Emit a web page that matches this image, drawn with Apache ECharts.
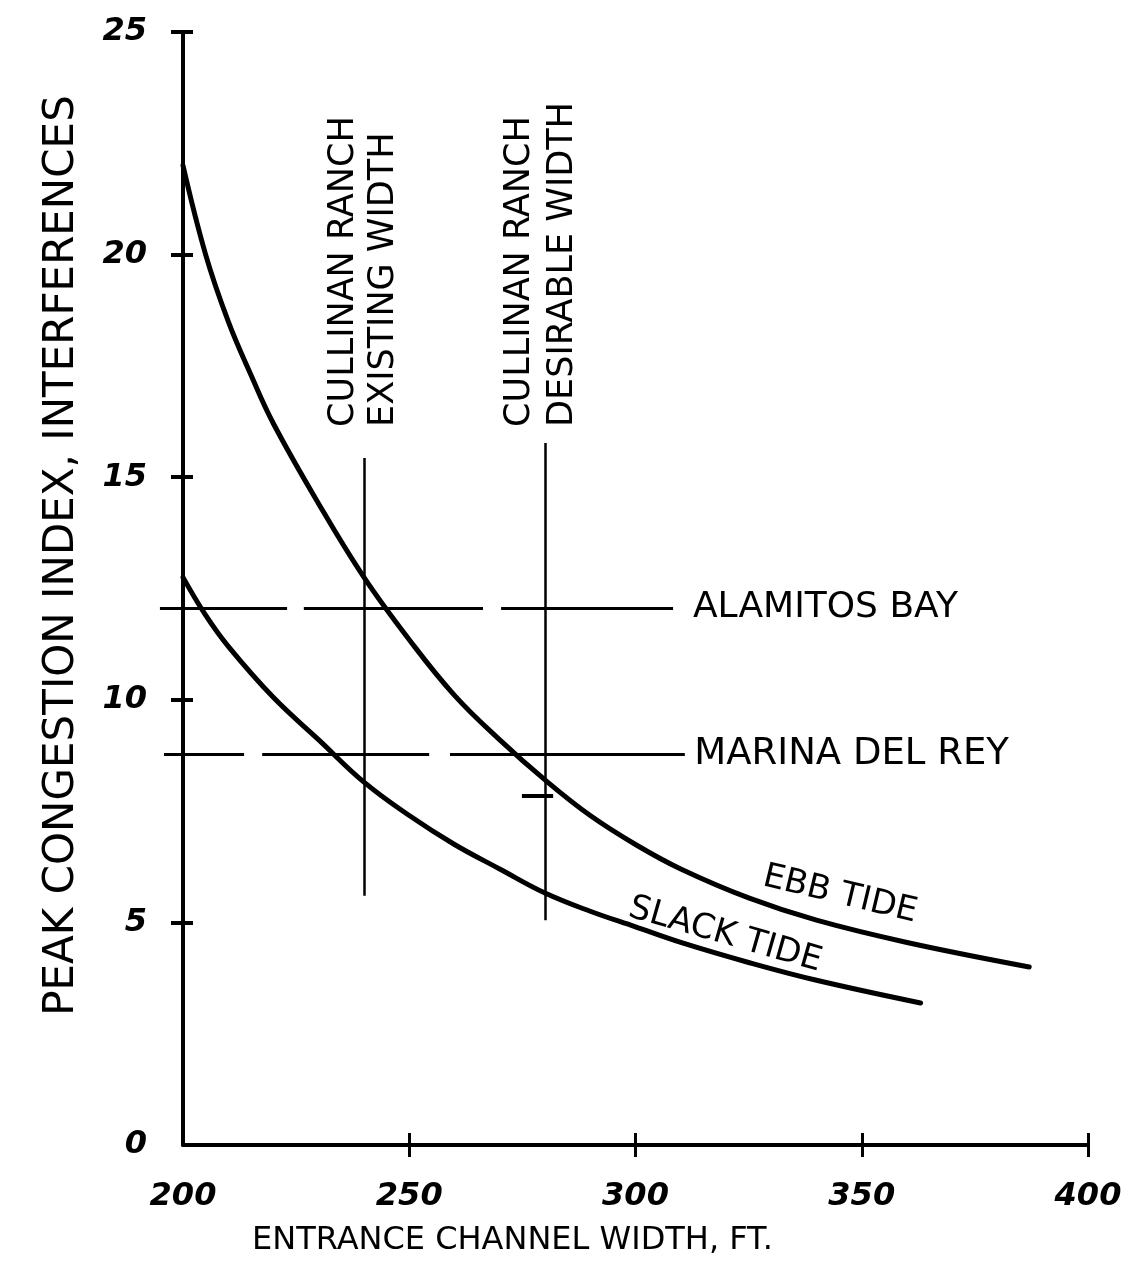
<!DOCTYPE html>
<html><head><meta charset="utf-8">
<script src="https://cdn.jsdelivr.net/npm/echarts@6/dist/echarts.min.js"></script>
<style>html,body{margin:0;padding:0;background:#fff}#c{width:1130px;height:1285px}</style>
</head><body><div id="c"></div>
<script>
// ---- data ----
const xTickValues = [250, 300, 350, 400];
const yTickValues = [5, 10, 15, 20, 25];

const ebbX = [200, 205, 210, 215, 220, 230, 240, 250, 260, 270, 280, 290, 300, 310, 325, 340, 360, 387];
const ebbY = [22.0, 20.0, 18.5, 17.3, 16.2, 14.4, 12.75, 11.35, 10.1, 9.1, 8.2, 7.4, 6.75, 6.2, 5.55, 5.05, 4.55, 4.0];

const slackX = [200, 205, 210, 220, 230, 240, 250, 260, 270, 280, 290, 300, 310, 325, 340, 363];
const slackY = [12.75, 11.9, 11.2, 10.05, 9.1, 8.15, 7.4, 6.75, 6.2, 5.66, 5.25, 4.9, 4.55, 4.1, 3.7, 3.19];

const alamitosY = 12.06;
const alamitosDashes = [[194.9, 223.0], [226.7, 266.3], [270.3, 308.3]];
const marinaY = 8.78;
const marinaDashes = [[195.8, 213.5], [217.5, 254.4], [259.0, 310.9]];

const existingX = 240;
const existingRange = [5.6, 15.43];
const desirableX = 280;
const desirableRange = [5.05, 15.77];
const markY = 7.84;
const markRange = [274.9, 281.8];

const xAxisTitle = 'ENTRANCE CHANNEL WIDTH, FT.';
const yAxisTitle = 'PEAK CONGESTION INDEX, INTERFERENCES';
const existingLabel = 'CULLINAN RANCH\nEXISTING WIDTH';
const desirableLabel = 'CULLINAN RANCH\nDESIRABLE WIDTH';
const alamitosLabel = 'ALAMITOS BAY';
const marinaLabel = 'MARINA DEL REY';
const ebbLabel = 'EBB TIDE';
const slackLabel = 'SLACK TIDE';

// ---- chart ----
const FONT = 'DejaVu Sans';
const tickLabelStyle = {fontFamily: FONT, fontStyle: 'italic', fontWeight: 'bold', fontSize: 32, color: '#000'};

const dashData = alamitosDashes.map(d => ({coords: [[d[0], alamitosY], [d[1], alamitosY]]}))
  .concat(marinaDashes.map(d => ({coords: [[d[0], marinaY], [d[1], marinaY]]})));
const verticalData = [
  {coords: [[existingX, existingRange[0]], [existingX, existingRange[1]]]},
  {coords: [[desirableX, desirableRange[0]], [desirableX, desirableRange[1]]]}
];
const markData = [{coords: [[markRange[0], markY], [markRange[1], markY]]}];

const option = {
  animation: false,
  backgroundColor: '#fff',
  grid: {left: 183, right: 42, top: 32, bottom: 140},
  xAxis: [{
    type: 'value', min: 200, max: 400, interval: 50, position: 'bottom',
    axisLine: {show: true, onZero: false, lineStyle: {color: '#000', width: 4}},
    axisTick: {show: true, length: 12, customValues: xTickValues, lineStyle: {color: '#000', width: 3}},
    axisLabel: Object.assign({margin: 36}, tickLabelStyle),
    splitLine: {show: false},
    name: xAxisTitle, nameLocation: 'middle', nameGap: 80,
    nameTextStyle: {fontFamily: FONT, fontSize: 32, color: '#000', padding: [0, 246, 0, 0]}
  }, {
    type: 'value', min: 200, max: 400, interval: 50, position: 'bottom',
    axisLine: {show: false, onZero: false},
    axisTick: {show: true, inside: true, length: 12, customValues: xTickValues, lineStyle: {color: '#000', width: 3}},
    axisLabel: {show: false}, splitLine: {show: false}
  }],
  yAxis: [{
    type: 'value', min: 0, max: 25, interval: 5, position: 'left',
    axisLine: {show: true, onZero: false, lineStyle: {color: '#000', width: 4}},
    axisTick: {show: true, length: 12, customValues: yTickValues, lineStyle: {color: '#000', width: 4}},
    axisLabel: Object.assign({margin: 36}, tickLabelStyle),
    splitLine: {show: false},
    name: yAxisTitle, nameLocation: 'middle', nameRotate: 90, nameGap: 100,
    nameTextStyle: {fontFamily: FONT, fontSize: 42, color: '#000', padding: [0, 0, 0, 66]}
  }, {
    type: 'value', min: 0, max: 25, interval: 5, position: 'left',
    axisLine: {show: false, onZero: false},
    axisTick: {show: true, inside: true, length: 10, customValues: yTickValues, lineStyle: {color: '#000', width: 4}},
    axisLabel: {show: false}, splitLine: {show: false}
  }],
  series: [
    {
      name: 'Ebb tide', type: 'line', xAxisIndex: 0, yAxisIndex: 0,
      data: ebbX.map((x, i) => [x, ebbY[i]]),
      showSymbol: false, smooth: 0.4, clip: false,
      lineStyle: {color: '#000', width: 5, cap: 'round'}
    },
    {
      name: 'Slack tide', type: 'line', xAxisIndex: 0, yAxisIndex: 0,
      data: slackX.map((x, i) => [x, slackY[i]]),
      showSymbol: false, smooth: 0.4, clip: false,
      lineStyle: {color: '#000', width: 5, cap: 'round'}
    },
    {
      name: 'Reference marinas', type: 'lines', coordinateSystem: 'cartesian2d', xAxisIndex: 0, yAxisIndex: 0,
      polyline: false, clip: false, data: dashData,
      lineStyle: {color: '#000', width: 3, opacity: 1, curveness: 0}
    },
    {
      name: 'Cullinan Ranch widths', type: 'lines', coordinateSystem: 'cartesian2d', xAxisIndex: 0, yAxisIndex: 0,
      polyline: false, clip: false, data: verticalData,
      lineStyle: {color: '#000', width: 2.5, opacity: 1, curveness: 0}
    },
    {
      name: 'Mark', type: 'lines', coordinateSystem: 'cartesian2d', xAxisIndex: 0, yAxisIndex: 0,
      polyline: false, clip: false, data: markData,
      lineStyle: {color: '#000', width: 4, opacity: 1, curveness: 0}
    }
  ]
};

const chart = echarts.init(document.getElementById('c'), null, {renderer: 'canvas'});
chart.setOption(option);

function px(p) { return chart.convertToPixel({gridIndex: 0}, p); }
function txt(pos, text, opts) {
  const p = px(pos);
  return {
    type: 'text', x: p[0], y: p[1], rotation: opts.rotation || 0, silent: true,
    style: {
      text: text, fill: '#000', fontFamily: FONT, fontSize: opts.fontSize || 33,
      align: opts.align || 'left', verticalAlign: opts.verticalAlign || 'middle',
      lineHeight: opts.lineHeight || 40
    }
  };
}
const deg = Math.PI / 180;
chart.setOption({
  graphic: [
    txt([existingX, 16.13], existingLabel, {rotation: 90 * deg, lineHeight: 40, fontSize: 35}),
    txt([desirableX - 0.9, 16.13], desirableLabel, {rotation: 90 * deg, lineHeight: 43, fontSize: 35}),
    txt([312.7, alamitosY], alamitosLabel, {fontSize: 36}),
    txt([313.0, marinaY], marinaLabel, {fontSize: 37}),
    txt([345.2, 5.62], ebbLabel, {rotation: -13.5 * deg, align: 'center', fontSize: 34}),
    txt([319.8, 4.72], slackLabel, {rotation: -16 * deg, align: 'center', fontSize: 34})
  ]
});
</script></body></html>
